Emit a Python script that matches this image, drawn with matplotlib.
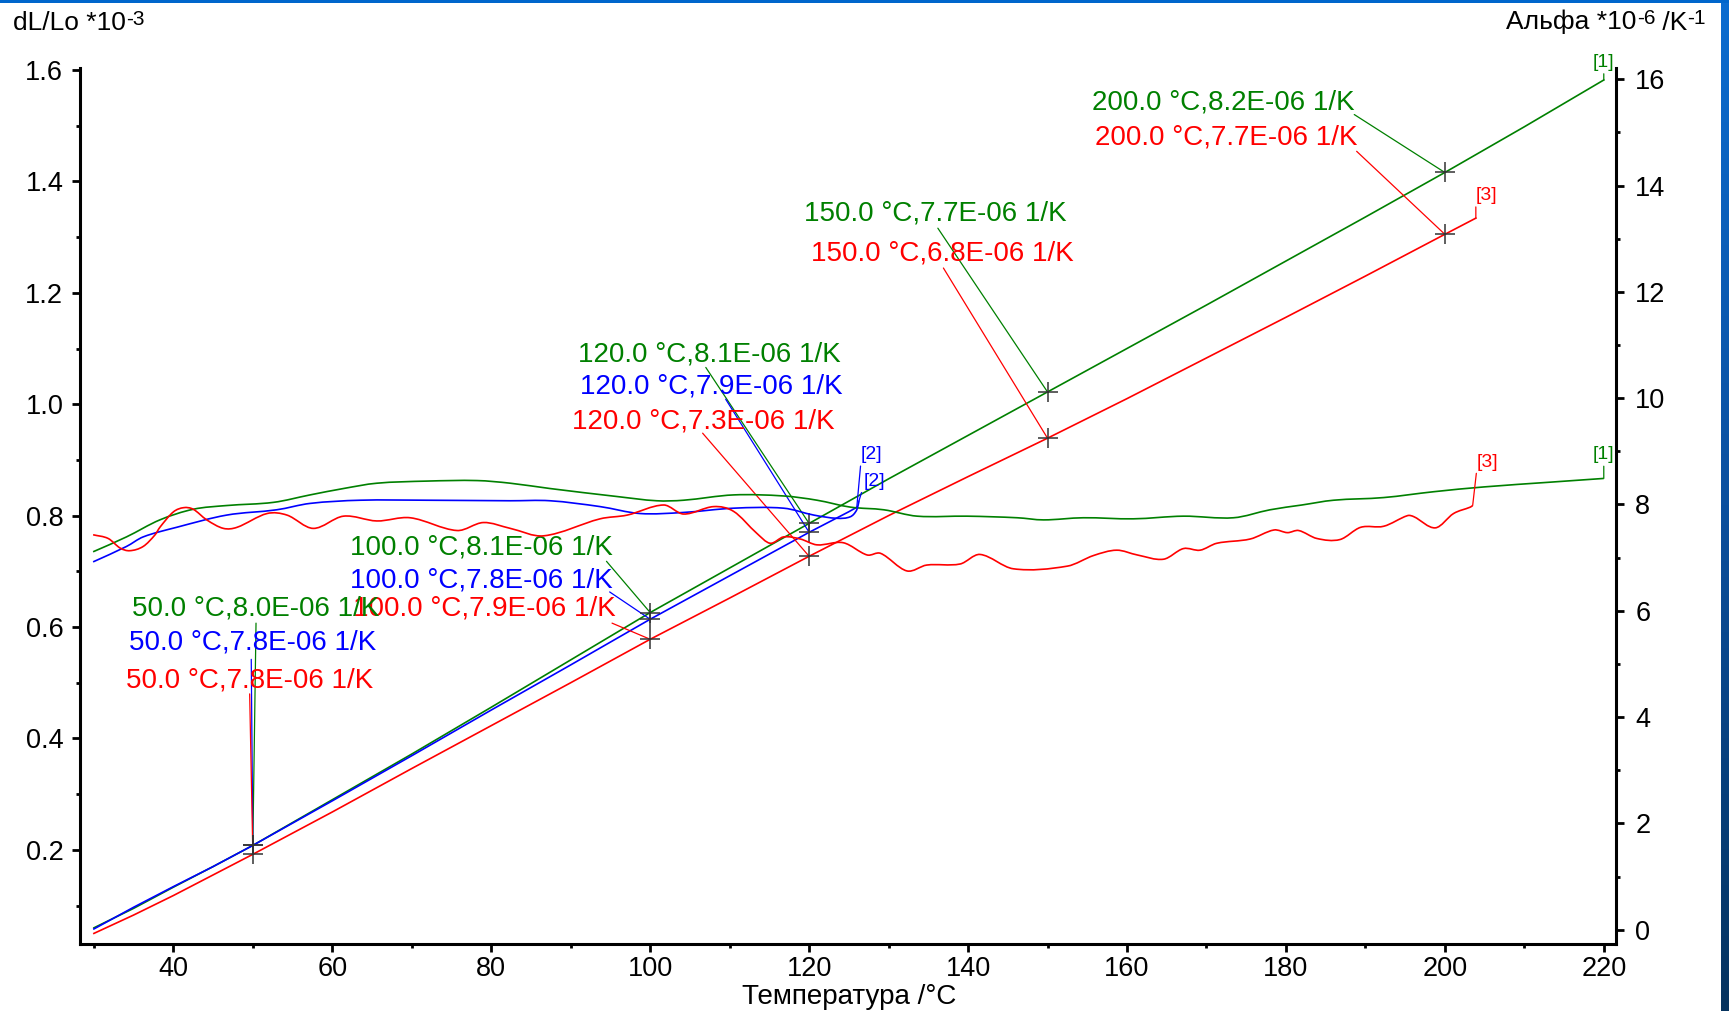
import numpy as np
import matplotlib
matplotlib.use('Agg')
import matplotlib.pyplot as plt
from matplotlib.ticker import MultipleLocator, FormatStrFormatter
from matplotlib.colors import LinearSegmentedColormap
from matplotlib.path import Path
from matplotlib.patches import PathPatch

plt.rcParams['font.family'] = ['Liberation Sans', 'DejaVu Sans']

# ---------------- data ----------------
# dL/Lo (*1e-3) curves
t1_dl = [30, 35, 40, 45, 50, 60, 70, 80, 90, 100, 110, 120, 130, 140, 150, 160, 170, 180, 190, 200, 210, 220]
v1_dl = [0.060, 0.095, 0.133, 0.170, 0.208, 0.290, 0.372, 0.456, 0.541, 0.626, 0.706, 0.786, 0.866, 0.944,
         1.022, 1.100, 1.178, 1.257, 1.336, 1.416, 1.498, 1.582]
t2_dl = [30, 35, 40, 45, 50, 60, 70, 80, 90, 100, 110, 120, 125, 126]
v2_dl = [0.058, 0.097, 0.134, 0.170, 0.208, 0.288, 0.369, 0.451, 0.532, 0.614, 0.692, 0.770, 0.807, 0.815]
t3_dl = [30, 35, 40, 45, 50, 60, 70, 80, 90, 100, 110, 120, 130, 140, 150, 160, 170, 180, 190, 200, 203.9]
v3_dl = [0.050, 0.083, 0.118, 0.155, 0.192, 0.268, 0.346, 0.423, 0.500, 0.578, 0.652, 0.727, 0.800, 0.870,
         0.939, 1.010, 1.083, 1.156, 1.230, 1.305, 1.334]

# alpha (*1e-6 /K) curves
t1_a = [29.9, 34.1, 38.3, 42.5, 46.7, 52.6, 57.2, 61.4, 65.6, 71.9, 78.2, 82.4, 87.4, 95.8, 100.8, 104.2,
        110.5, 116.8, 121.0, 125.2, 129.4, 133.6, 139.9, 146.2, 149.5, 154.5, 160.8, 167.1, 173.4, 178.0,
        182.0, 186.0, 192.3, 198.6, 204.9, 213.3, 220.0]
v1_a = [7.11, 7.39, 7.71, 7.91, 7.98, 8.04, 8.18, 8.30, 8.40, 8.44, 8.45, 8.40, 8.30, 8.15, 8.07, 8.08,
        8.18, 8.16, 8.08, 7.95, 7.90, 7.78, 7.78, 7.75, 7.71, 7.75, 7.73, 7.78, 7.75, 7.90,
        7.99, 8.08, 8.13, 8.24, 8.33, 8.42, 8.49]
t2_a = [29.9, 34.1, 36.2, 40.4, 46.7, 53.0, 57.2, 63.5, 71.9, 82.4, 87.4, 93.7, 98.7, 104.2, 110.5, 116.8,
        120.6, 123.5, 125.2, 126.0, 126.3]
v2_a = [6.92, 7.21, 7.39, 7.57, 7.80, 7.90, 8.02, 8.08, 8.08, 8.07, 8.07, 7.96, 7.83, 7.85, 7.93, 7.93,
        7.80, 7.74, 7.77, 7.90, 8.08]
t3_a = [29.9, 31.8, 33.3, 34.5, 36.2, 37.7, 38.3, 40.0, 41.3, 42.5, 44.2, 46.3, 48.0, 51.8, 54.3, 57.6,
        61.4, 65.6, 69.8, 75.7, 79.0, 82.4, 86.6, 93.7, 97.1, 101.7, 104.2, 108.0, 110.5, 113.4, 115.1,
        116.8, 118.9, 121.0, 124.3, 127.3, 129.0, 132.3, 134.8, 139.0, 141.5, 145.7, 152.5, 155.8, 158.7,
        161.3, 164.6, 167.1, 169.2, 171.3, 175.5, 178.5, 180.2, 181.6, 183.9, 186.8, 189.4, 192.3, 195.3,
        196.1, 198.8, 201.1, 203.2, 203.5]
v3_a = [7.43, 7.36, 7.18, 7.13, 7.21, 7.43, 7.57, 7.86, 7.94, 7.91, 7.71, 7.55, 7.57, 7.83, 7.80, 7.55,
        7.78, 7.69, 7.75, 7.51, 7.66, 7.55, 7.41, 7.73, 7.80, 7.99, 7.82, 7.96, 7.87, 7.46, 7.27,
        7.39, 7.35, 7.24, 7.28, 7.05, 7.08, 6.75, 6.86, 6.88, 7.06, 6.79, 6.84, 7.04, 7.14,
        7.05, 6.97, 7.17, 7.14, 7.27, 7.35, 7.52, 7.47, 7.51, 7.36, 7.34, 7.57, 7.59, 7.79,
        7.77, 7.56, 7.83, 7.95, 7.98]

# evaluated points: (series index, temperature, mean alpha *1e-6)
eval_series = [0, 2, 0, 2, 0, 1, 2, 0, 1, 2, 0, 1, 2]
eval_temp = [200.0, 200.0, 150.0, 150.0, 120.0, 120.0, 120.0, 100.0, 100.0, 100.0, 50.0, 50.0, 50.0]
eval_alpha = [8.2, 7.7, 7.7, 6.8, 8.1, 7.9, 7.3, 8.1, 7.8, 7.9, 8.0, 7.8, 7.8]

series_names = ['[1]', '[2]', '[3]']
colors = ['#008000', '#0000ff', '#ff0000']

# ---------------- layout ----------------
text_pos = [(155.6, 1.5415), (156.0, 1.478), (119.4, 1.342), (120.2, 1.270), (90.9, 1.090), (91.2, 1.031),
            (90.1, 0.969), (62.2, 0.742), (62.2, 0.684), (62.6, 0.633), (34.8, 0.633), (34.4, 0.5715),
            (34.0, 0.504)]
lead_pos = [(188.6, 1.520), (188.9, 1.454), (136.2, 1.316), (136.9, 1.2445), (107.0, 1.066), (109.5, 1.009),
            (106.6, 0.948), (94.5, 0.718), (94.9, 0.663), (95.2, 0.607), (50.4, 0.607), (49.8, 0.542),
            (49.6, 0.480)]
# end labels: offsets in pixels (dx, dy), ha, va, relpos
end_dl_off = [((0, 9), 'center', 'bottom', (0.5, 0.0)), ((4, 44), 'left', 'bottom', (0.0, 0.0)),
              ((0, 14), 'left', 'bottom', (0.0, 0.0))]
end_a_off = [((0, 15), 'center', 'bottom', (0.5, 0.0)), ((4, 19), 'left', 'center', (0.0, 0.15)),
             ((4, 35), 'left', 'bottom', (0.0, 0.0))]

W, H = 1729, 1011
fig = plt.figure(figsize=(W / 100, H / 100), dpi=100)
fig.patch.set_facecolor('white')

ax = fig.add_axes([80 / W, 1 - 944 / H, (1615.7 - 80) / W, (944 - 68.3) / H])
ax2 = ax.twinx()
ax.set_xlim(28.25, 221.5)
ax.set_ylim(0.031, 1.603)
ax2.set_ylim(-0.27, 16.207)


def smooth_path(x, y):
    """Cubic Hermite rendering (Bezier segments) through the read points."""
    x = np.asarray(x, float)
    y = np.asarray(y, float)
    n = len(x)
    m = np.zeros(n)
    m[1:-1] = (y[2:] - y[:-2]) / (x[2:] - x[:-2])
    m[0] = (y[1] - y[0]) / (x[1] - x[0])
    m[-1] = (y[-1] - y[-2]) / (x[-1] - x[-2])
    verts = [(x[0], y[0])]
    codes = [Path.MOVETO]
    for i in range(n - 1):
        h = x[i + 1] - x[i]
        verts += [(x[i] + h / 3, y[i] + m[i] * h / 3),
                  (x[i + 1] - h / 3, y[i + 1] - m[i + 1] * h / 3),
                  (x[i + 1], y[i + 1])]
        codes += [Path.CURVE4] * 3
    return Path(verts, codes)


t_dl = [t1_dl, t2_dl, t3_dl]
v_dl = [v1_dl, v2_dl, v3_dl]
t_a = [t1_a, t2_a, t3_a]
v_a = [v1_a, v2_a, v3_a]

for i in range(3):
    ax.plot(t_dl[i], v_dl[i], color=colors[i], lw=1.2, zorder=3)
    ax2.add_patch(PathPatch(smooth_path(t_a[i], v_a[i]), facecolor='none', edgecolor=colors[i],
                            lw=1.2, zorder=3, transform=ax2.transData))
    (dx, dy), ha, va, rp = end_dl_off[i]
    ax.annotate(series_names[i], xy=(t_dl[i][-1], v_dl[i][-1]), xytext=(dx, dy), textcoords='offset pixels',
                ha=ha, va=va, color=colors[i], fontsize=14,
                arrowprops=dict(arrowstyle='-', color=colors[i], lw=0.9, shrinkA=0, shrinkB=0, relpos=rp))
    (dx, dy), ha, va, rp = end_a_off[i]
    ax2.annotate(series_names[i], xy=(t_a[i][-1], v_a[i][-1]), xytext=(dx, dy), textcoords='offset pixels',
                 ha=ha, va=va, color=colors[i], fontsize=14,
                 arrowprops=dict(arrowstyle='-', color=colors[i], lw=0.9, shrinkA=0, shrinkB=0, relpos=rp))

for k in range(len(eval_temp)):
    s = eval_series[k]
    T = eval_temp[k]
    idx = t_dl[s].index(T)
    y = v_dl[s][idx]
    ax.annotate('', xy=(T, y), xytext=lead_pos[k], textcoords='data',
                arrowprops=dict(arrowstyle='-', color=colors[s], lw=0.9, shrinkA=0, shrinkB=0), zorder=4)
    ax.plot([T], [y], marker='+', ms=14, mew=1.1, color='#333333', zorder=6)
    ax.text(text_pos[k][0], text_pos[k][1], f"{T:.1f} °C,{eval_alpha[k]:.1f}E-06 1/K",
            color=colors[s], fontsize=20, ha='left', va='center', zorder=5)

# axes styling
for a in (ax, ax2):
    a.spines['top'].set_visible(False)
    for sp in a.spines.values():
        sp.set_linewidth(2.2)
ax.spines['right'].set_visible(False)
ax2.spines['left'].set_visible(False)
ax2.spines['bottom'].set_visible(False)

ax.xaxis.set_major_locator(MultipleLocator(20))
ax.xaxis.set_minor_locator(MultipleLocator(10))
ax.yaxis.set_major_locator(MultipleLocator(0.2))
ax.yaxis.set_minor_locator(MultipleLocator(0.1))
ax.yaxis.set_major_formatter(FormatStrFormatter('%.1f'))
ax2.yaxis.set_major_locator(MultipleLocator(2))
ax2.yaxis.set_minor_locator(MultipleLocator(1))

ax.tick_params(axis='y', which='major', direction='out', length=6, width=2, labelsize=19.5, pad=6)
ax.tick_params(axis='x', which='major', direction='out', length=6, width=2, labelsize=19.5, pad=3)
ax.tick_params(axis='both', which='minor', direction='out', length=3, width=2)
ax2.tick_params(axis='y', which='major', direction='out', length=6, width=2, labelsize=19.5, pad=8)
ax2.tick_params(axis='y', which='minor', direction='out', length=3, width=2)


def rich_title(x_anchor, y0, parts, size, sup_size, raise_px, align='left'):
    """Draw base text + superscripts chained left to right (pixels, baseline)."""
    fig.canvas.draw()
    r = fig.canvas.get_renderer()
    widths = []
    for txt, sup in parts:
        t = fig.text(0, 0, txt, fontsize=sup_size if sup else size)
        widths.append(t.get_window_extent(r).width)
        t.remove()
    x = x_anchor if align == 'left' else x_anchor - sum(widths)
    for (txt, sup), w in zip(parts, widths):
        fs = sup_size if sup else size
        yy = y0 + (raise_px if sup else 0)
        fig.text(x / W, 1 - yy / H, txt, fontsize=fs, ha='left', va='baseline')
        x += w


rich_title(13, 30, [('dL/Lo *10', False), ('-3', True)], 19, 15, -5)
rich_title(1706, 29.5, [('Альфа *10', False), ('-6', True), (' /K', False), ('-1', True)], 19, 15, -5,
           align='right')
fig.text(849 / W, 1 - 997 / H, 'Температура /°C', fontsize=20, ha='center', va='center')

# blue frame pieces
cm = LinearSegmentedColormap.from_list('frame', ['#0b6cd0', '#0a4f9e', '#06335f'])
bg = fig.add_axes([1721 / W, 0, 8 / W, 1])
bg.imshow(np.linspace(0, 1, 256)[:, None], aspect='auto', cmap=cm)
bg.axis('off')
top = fig.add_axes([0, 1 - 3 / H, 1, 3 / H])
top.set_facecolor('#0066cc')
top.set_xticks([]); top.set_yticks([])
for sp in top.spines.values():
    sp.set_visible(False)

fig.savefig('out.png', dpi=100)
